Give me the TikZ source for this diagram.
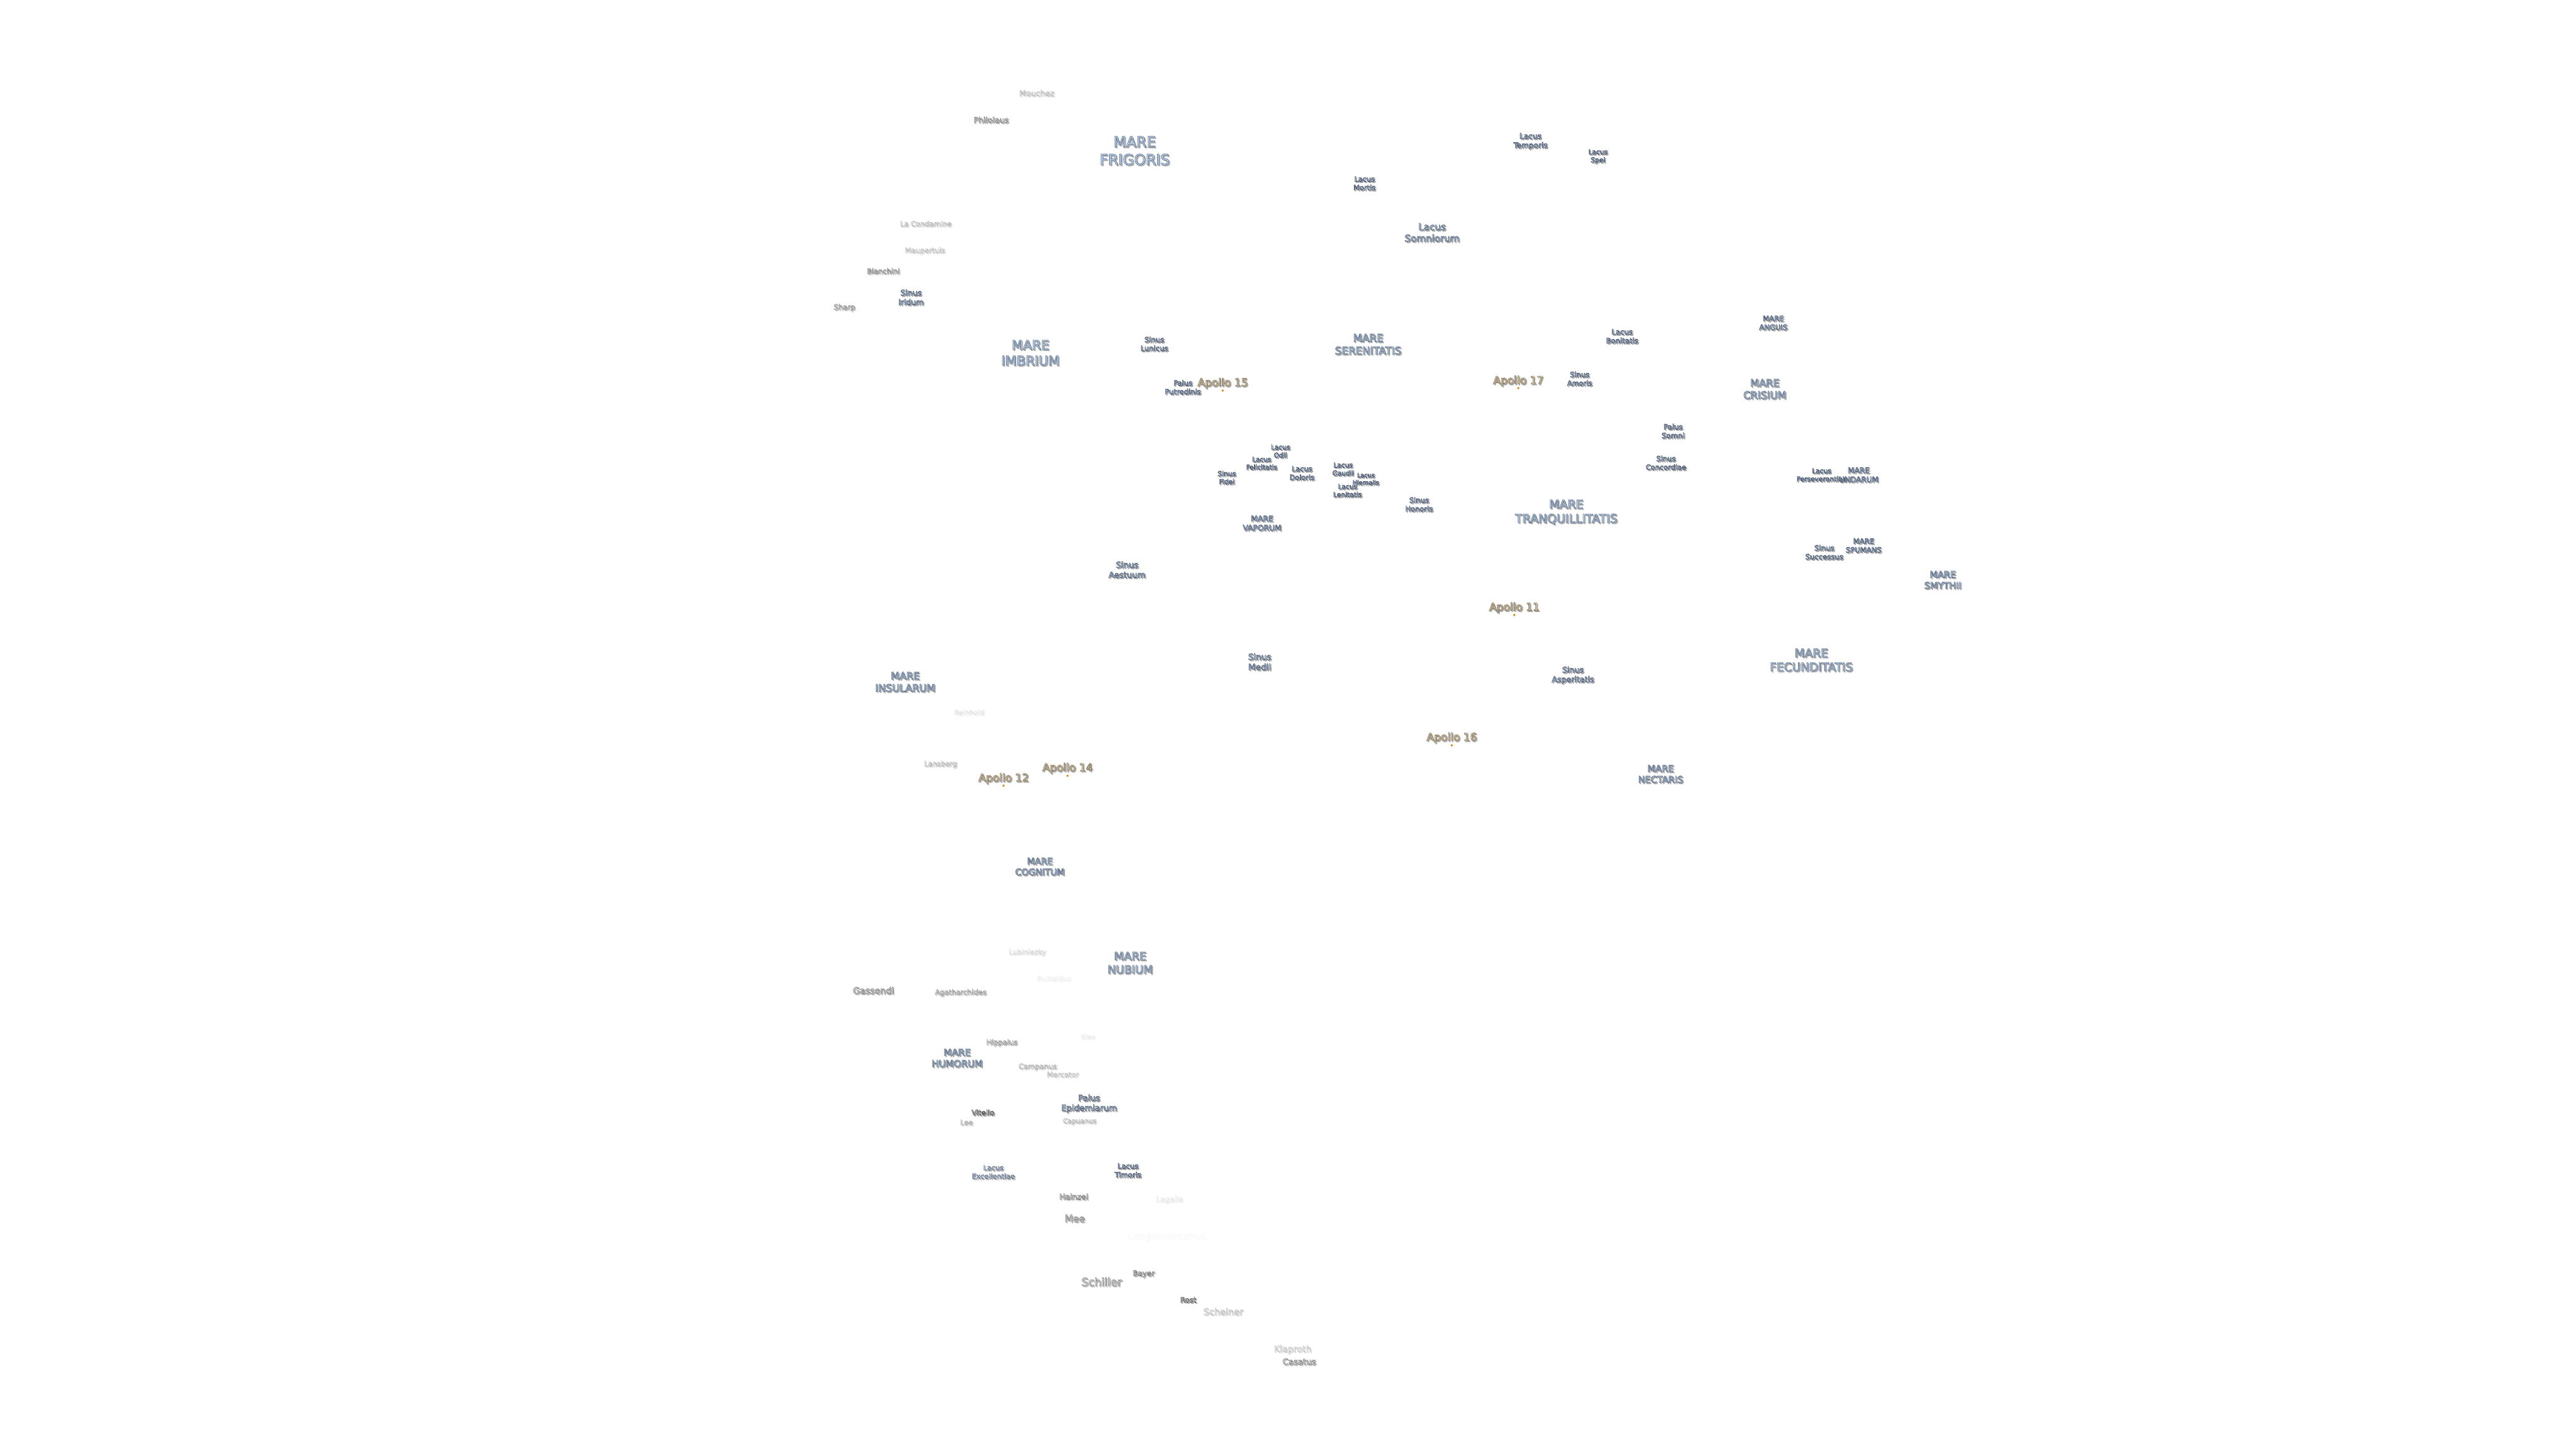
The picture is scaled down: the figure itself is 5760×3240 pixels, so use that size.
\documentclass[tikz,border=0pt]{standalone}
\usepackage{fontspec}
\setmainfont{DejaVu Sans}
\definecolor{marefill}{HTML}{BFDAF7}
\definecolor{apofill}{HTML}{FBE3B5}
\definecolor{crafill}{HTML}{F7F7F7}
\definecolor{apodot}{HTML}{D98A2B}
\newcommand{\strokeon}[2]{\special{pdf:code 2 Tr #2 w #1 RG}}
\newcommand{\strokeoff}{\special{pdf:code 0 Tr}}
\def\strokemare{0.27 0.33 0.43}
\def\strokeapo{0.38 0.33 0.25}
\def\strokecra{0.30 0.30 0.30}
\tikzset{
  lbl/.style={inner sep=0pt,align=center},
  apomark/.style={circle,fill=apodot,inner sep=0pt,minimum size=1.2pt}
}
% #1 name, #2 fill colour, #3 stroke rgb, #4 size px, #5 opacity, #6 position, #7 text
\newcommand{\lab}[7]{%
  \pgfmathsetmacro\fs{#4*.25}\pgfmathsetmacro\fl{#4*.25*1.2}%
  \pgfmathsetmacro\opa{#5*.45}%
  \node[lbl,opacity=\opa,text=black!55,font=\fontsize{\fs pt}{\fl pt}\selectfont]
     (#1s) at ($(#6)+(2.5,2.5)$) {\strokeon{0.35 0.35 0.35}{0.22}#7\strokeoff};
  \node[lbl,opacity=#5,text=#2,font=\fontsize{\fs pt}{\fl pt}\selectfont]
     (#1) at (#6) {\strokeon{#3}{0.19}#7\strokeoff};
}
\newcommand{\mare}[5]{\lab{#1}{marefill}{\strokemare}{#2}{#3}{#4}{#5}}
\newcommand{\crat}[5]{\lab{#1}{crafill}{\strokecra}{#2}{#3}{#4}{#5}}
\newcommand{\apollo}[3]{\lab{#1}{apofill}{\strokeapo}{24}{1}{#2}{#3}}
\usetikzlibrary{calc}
\begin{document}
\begin{tikzpicture}[x=.25pt,y=-.25pt]
\useasboundingbox (0,0) rectangle (5760,3240);
\fill[white] (0,0) rectangle (5760,3240);
\crat{mouchez}{17.6}{.35}{2318,208}{Mouchez}
\crat{philolaus}{17.5}{.7}{2216,268}{Philolaus}
\mare{frigoris}{33}{1}{2537,337}{MARE\\FRIGORIS}
\crat{condamine}{16}{.35}{2070,500}{La Condamine}
\crat{maupertuis}{16}{.3}{2068,561}{Maupertuis}
\crat{bianchini}{16}{.65}{1975,606}{Bianchini}
\mare{iridum}{17.5}{1}{2037,665}{Sinus\\Iridum}
\crat{sharp}{16.4}{.6}{1888,688}{Sharp}
\mare{imbrium}{29.4}{1}{2304,789}{MARE\\IMBRIUM}
\mare{lunicus}{16.2}{1}{2581,769}{Sinus\\Lunicus}
\mare{temporis}{17}{1}{3422,316}{Lacus\\Temporis}
\mare{spei}{15}{1}{3573,350}{Lacus\\Spei}
\mare{mortis}{16}{1}{3051,410}{Lacus\\Mortis}
\mare{somniorum}{21.3}{1}{3202,520}{Lacus\\Somniorum}
\mare{serenitatis}{23.5}{1}{3059,770}{MARE\\SERENITATIS}
\mare{amoris}{16}{1}{3532,847}{Sinus\\Amoris}
\mare{bonitatis}{16.3}{1}{3627,752}{Lacus\\Bonitatis}
\mare{anguis}{16.3}{1}{3965,722}{MARE\\ANGUIS}
\mare{crisium}{22.8}{1}{3946,870}{MARE\\CRISIUM}
\mare{putredinis}{16.2}{1}{2645,866}{Palus\\Putredinis}
\mare{odii}{15}{1}{2863,1009}{Lacus\\Odii}
\mare{felicitatis}{14.7}{1}{2821,1036}{Lacus\\Felicitatis}
\mare{fidei}{15.1}{1}{2743,1068}{Sinus\\Fidei}
\mare{doloris}{16}{1}{2911,1058}{Lacus\\Doloris}
\mare{gaudii}{15}{1}{3003,1049}{Lacus\\Gaudii}
\mare{hiemalis}{13.7}{1}{3054,1071}{Lacus\\Hiemalis}
\mare{lenitatis}{15}{1}{3013,1097}{Lacus\\Lenitatis}
\mare{honoris}{16.2}{1}{3173,1128}{Sinus\\Honoris}
\mare{vaporum}{17.3}{1}{2822,1170}{MARE\\VAPORUM}
\mare{tranquillitatis}{26.6}{1}{3502,1145}{MARE\\TRANQUILLITATIS}
\mare{somni}{16.4}{1}{3741,964}{Palus\\Somni}
\mare{concordiae}{16}{1}{3725,1035}{Sinus\\Concordiae}
\mare{perseverantiae}{15}{1}{4073,1062}{Lacus\\Perseverantiae}
\mare{undarum}{17}{1}{4156,1062}{MARE\\UNDARUM}
\mare{successus}{16.4}{1}{4079,1235}{Sinus\\Successus}
\mare{spumans}{16.3}{1}{4167,1220}{MARE\\SPUMANS}
\mare{smythii}{20.4}{1}{4344,1297}{MARE\\SMYTHII}
\mare{asperitatis}{17.7}{1}{3517,1510}{Sinus\\Asperitatis}
\mare{fecunditatis}{26}{1}{4050,1476}{MARE\\FECUNDITATIS}
\mare{nectaris}{20.5}{1}{3713,1731}{MARE\\NECTARIS}
\mare{aestuum}{18.6}{1}{2520,1274}{Sinus\\Aestuum}
\mare{medii}{19}{1}{2816.5,1480}{Sinus\\Medii}
\mare{insularum}{22.5}{1}{2024,1525}{MARE\\INSULARUM}
\crat{reinhold}{15.6}{.12}{2167,1593}{Reinhold}
\crat{lansberg}{16}{.35}{2103,1709}{Lansberg}
\mare{cognitum}{20}{1}{2325,1938}{MARE\\COGNITUM}
\crat{lubiniezky}{15.8}{.18}{2297,2130}{Lubiniezky}
\mare{nubium}{25}{1}{2527,2153}{MARE\\NUBIUM}
\crat{bullialdus}{15.8}{.06}{2356,2188}{Bullialdus}
\crat{gassendi}{20}{.75}{1953,2215}{Gassendi}
\crat{agatharchides}{16}{.5}{2148,2220}{Agatharchides}
\crat{hippalus}{16}{.55}{2240,2332}{Hippalus}
\crat{kies}{15.5}{.08}{2433,2318}{Kies}
\mare{humorum}{21}{1}{2140,2366}{MARE\\HUMORUM}
\crat{campanus}{16}{.4}{2320,2386}{Campanus}
\crat{mercator}{16}{.3}{2376.5,2403}{Mercator}
\mare{epidemiarum}{18.7}{1}{2435,2468}{Palus\\Epidemiarum}
\crat{vitello}{16.3}{1}{2198,2488}{Vitello}
\crat{lee}{16}{.4}{2161,2510}{Lee}
\crat{capuanus}{15}{.35}{2414,2508}{Capuanus}
\mare{excellentiae}{15.8}{.75}{2221,2621}{Lacus\\Excellentiae}
\mare{timoris}{16.3}{1}{2522,2617.5}{Lacus\\Timoris}
\crat{hainzel}{17.4}{.7}{2401,2676}{Hainzel}
\crat{lagalla}{17}{.1}{2615,2683}{Lagalla}
\crat{mee}{21.5}{.75}{2403,2725}{Mee}
\crat{longomontanus}{21.7}{.02}{2609,2766}{Longomontanus}
\crat{bayer}{16.7}{.75}{2557,2849}{Bayer}
\crat{schiller}{24.6}{.75}{2463,2866.5}{Schiller}
\crat{rost}{16.3}{.9}{2657,2907}{Rost}
\crat{scheiner}{20.3}{.35}{2735,2933}{Scheiner}
\crat{klaproth}{20}{.3}{2890,3018}{Klaproth}
\crat{casatus}{18.7}{.7}{2905,3045}{Casatus}
\apollo{ap15}{2734,857}{Apollo 15}
\apollo{ap17}{3395,852}{Apollo 17}
\apollo{ap11}{3386,1359}{Apollo 11}
\apollo{ap16}{3246,1650}{Apollo 16}
\apollo{ap12}{2244,1741}{Apollo 12}
\apollo{ap14}{2387,1718}{Apollo 14}
\node[apomark] (d15) at (2734,873.5) {};
\node[apomark] (d17) at (3395,868) {};
\node[apomark] (d11) at (3386,1375.5) {};
\node[apomark] (d16) at (3246,1667) {};
\node[apomark] (d12) at (2244,1757) {};
\node[apomark] (d14) at (2387,1735) {};
\end{tikzpicture}
\end{document}
